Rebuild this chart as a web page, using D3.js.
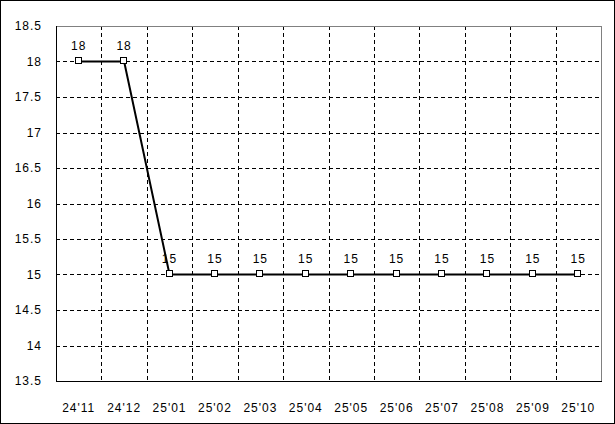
<!DOCTYPE html>
<html>
<head>
<meta charset="utf-8">
<script src="https://cdn.jsdelivr.net/npm/d3@7"></script>
<style>
  body { margin: 0; background: #fff; }
  svg text { font-family: "Liberation Sans", Arial, sans-serif; font-size: 12px; letter-spacing: 1px; fill: #000; }
</style>
</head>
<body>
<div id="chart"></div>
<script>
var months = ["24'11", "24'12", "25'01", "25'02", "25'03", "25'04", "25'05", "25'06", "25'07", "25'08", "25'09", "25'10"];
var values = [18, 18, 15, 15, 15, 15, 15, 15, 15, 15, 15, 15];
var yTicks = [13.5, 14, 14.5, 15, 15.5, 16, 16.5, 17, 17.5, 18, 18.5];

var W = 615, H = 424;
var margin = {top: 26, right: 14, bottom: 43, left: 56},
    width = W - margin.left - margin.right,
    height = H - margin.top - margin.bottom;

var svg = d3.select("#chart").append("svg")
  .attr("width", W)
  .attr("height", H);

// outer frame
svg.append("rect")
  .attr("x", 0.5).attr("y", 0.5)
  .attr("width", W - 1).attr("height", H - 1)
  .attr("fill", "#fff").attr("stroke", "#000");

var g = svg.append("g")
  .attr("transform", "translate(" + margin.left + "," + margin.top + ")");

var x = d3.scaleBand().domain(months).range([0, width]);
var y = d3.scaleLinear().domain([13.5, 18.5]).range([height, 0]);

// dashed grid
g.selectAll(".hgrid").data(yTicks.slice(1, -1)).enter()
  .append("line")
  .attr("x1", 0).attr("x2", width)
  .attr("y1", function(d) { return Math.round(y(d)) + 0.5; })
  .attr("y2", function(d) { return Math.round(y(d)) + 0.5; })
  .attr("stroke", "#000").attr("stroke-dasharray", "4,3");

g.selectAll(".vgrid").data(months.slice(1)).enter()
  .append("line")
  .attr("y1", 0).attr("y2", height)
  .attr("x1", function(d) { return Math.round(x(d)) + 0.5; })
  .attr("x2", function(d) { return Math.round(x(d)) + 0.5; })
  .attr("stroke", "#000").attr("stroke-dasharray", "4,3");

// plot frame: top/right gray, left/bottom black
g.append("line").attr("x1", 0).attr("x2", width).attr("y1", 0.5).attr("y2", 0.5).attr("stroke", "#808080");
g.append("line").attr("x1", width + 0.5).attr("x2", width + 0.5).attr("y1", 0).attr("y2", height).attr("stroke", "#808080");

var yAxis = d3.axisLeft(y).tickValues(yTicks).tickSize(0).tickPadding(14)
  .tickFormat(function(d) { return d; });
var gy = g.append("g").call(yAxis);
gy.select(".domain").attr("stroke", "#000").attr("d", "M0.5," + height + "V0");

var xAxis = d3.axisBottom(x).tickSize(0).tickPadding(22);
var gx = g.append("g").attr("transform", "translate(0," + height + ")").call(xAxis);
gx.select(".domain").attr("stroke", "#000").attr("d", "M0,0.5H" + (width + 1));

var pts = months.map(function(m, i) { return {m: m, v: values[i]}; });

var line = d3.line()
  .x(function(d) { return x(d.m) + x.bandwidth() / 2; })
  .y(function(d) { return y(d.v); });

g.append("path").datum(pts)
  .attr("d", line)
  .attr("fill", "none").attr("stroke", "#000").attr("stroke-width", 2);

g.selectAll(".pt").data(pts).enter()
  .append("rect")
  .attr("x", function(d) { return Math.round(x(d.m) + x.bandwidth() / 2) - 3.5; })
  .attr("y", function(d) { return Math.round(y(d.v)) - 3.5; })
  .attr("width", 6).attr("height", 6)
  .attr("fill", "#fff").attr("stroke", "#000");

g.selectAll(".lbl").data(pts).enter()
  .append("text")
  .attr("x", function(d) { return x(d.m) + x.bandwidth() / 2; })
  .attr("y", function(d) { return y(d.v) - 12; })
  .attr("text-anchor", "middle")
  .text(function(d) { return d.v; });
</script>
</body>
</html>
